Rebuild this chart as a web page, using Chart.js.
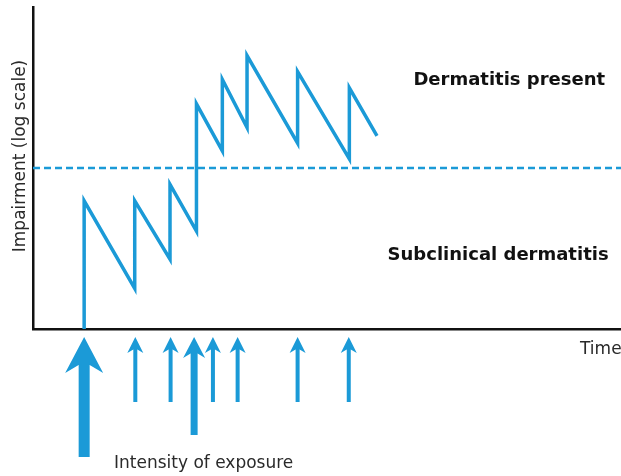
<!DOCTYPE html>
<html>
<head>
<meta charset="utf-8">
<script src="https://cdn.jsdelivr.net/npm/chart.js@4/dist/chart.umd.min.js"></script>
<style>
  body { margin: 0; background: #fff; }
</style>
</head>
<body>
<canvas id="impairmentChart" width="621" height="476"></canvas>
<script>
// schematic units: time 0-100, impairment 0-100 (log scale)
const responseTime = [8.7, 8.7, 17.3, 17.3, 23.3, 23.3, 27.8, 27.8, 32.2, 32.2, 36.4, 36.4, 45.0, 45.0, 53.8, 53.8, 58.5];
const responseLevel = [0, 39.8, 12.6, 39.8, 21.7, 44.9, 30.4, 69.9, 55.3, 77.5, 62.6, 84.9, 57.7, 79.9, 52.8, 74.9, 60.0];
const thresholdTime = [0, 100];
const thresholdLevel = [50, 50];
// exposures: 1 = low, 2 = medium, 3 = high intensity
const exposureTime = [8.7, 17.4, 23.4, 27.4, 30.6, 34.8, 45.0, 53.7];
const exposureIntensity = [3, 1, 1, 2, 1, 1, 1, 1];

const blue = "#1b9ad7";

const arrowSizes = {
  1: { shaft: 4, headW: 16, headH: 16, len: 65 },
  2: { shaft: 7, headW: 22, headH: 21, len: 98 },
  3: { shaft: 11, headW: 38, headH: 36, len: 120 },
};

// exposure arrows + free text labels
const annotations = {
  id: "annotations",
  afterDraw(chart) {
    const { ctx, chartArea, scales } = chart;
    const x = scales.x, y = scales.y;
    ctx.save();

    // arrows below the time axis
    ctx.fillStyle = blue;
    exposureTime.forEach((t, i) => {
      const s = arrowSizes[exposureIntensity[i]];
      const px = x.getPixelForValue(t);
      const tip = chartArea.bottom + 8;
      ctx.fillRect(px - s.shaft / 2, tip + s.headH * 0.6, s.shaft, s.len - s.headH * 0.6);
      ctx.beginPath();
      ctx.moveTo(px, tip);
      ctx.lineTo(px + s.headW / 2, tip + s.headH);
      ctx.lineTo(px + s.shaft / 2, tip + s.headH * 0.78);
      ctx.lineTo(px - s.shaft / 2, tip + s.headH * 0.78);
      ctx.lineTo(px - s.headW / 2, tip + s.headH);
      ctx.closePath();
      ctx.fill();
    });

    // region labels
    ctx.fillStyle = "#111";
    ctx.textAlign = "center";
    ctx.textBaseline = "middle";
    ctx.font = "bold 18px 'DejaVu Sans'";
    ctx.fillText("Dermatitis present", x.getPixelForValue(81), y.getPixelForValue(77.3));
    ctx.fillText("Subclinical dermatitis", x.getPixelForValue(79.1), y.getPixelForValue(23));

    // axis labels
    ctx.fillStyle = "#2a2a2a";
    ctx.font = "17px 'DejaVu Sans'";
    ctx.textAlign = "left";
    ctx.fillText("Time", 580, chartArea.bottom + 21);
    ctx.fillText("Intensity of exposure", 114, chartArea.bottom + 135);

    ctx.translate(21, 156);
    ctx.rotate(-Math.PI / 2);
    ctx.textAlign = "center";
    ctx.fillText("Impairment (log scale)", 0, 0);
    ctx.restore();
  },
};

const toPoints = (xs, ys) => xs.map((v, i) => ({ x: v, y: ys[i] }));

new Chart(document.getElementById("impairmentChart"), {
  type: "line",
  data: {
    datasets: [
      {
        label: "Impairment",
        data: toPoints(responseTime, responseLevel),
        borderColor: blue,
        borderWidth: 3.5,
        borderJoinStyle: "miter",
        pointRadius: 0,
        tension: 0,
      },
      {
        label: "Threshold",
        data: toPoints(thresholdTime, thresholdLevel),
        borderColor: blue,
        borderWidth: 2.5,
        borderDash: [7, 4],
        pointRadius: 0,
      },
    ],
  },
  options: {
    responsive: false,
    animation: false,
    events: [],
    layout: { padding: { left: 33, top: 7, right: 0, bottom: 147 } },
    plugins: {
      legend: { display: false },
      tooltip: { enabled: false },
    },
    scales: {
      x: {
        type: "linear",
        min: 0,
        max: 100,
        grid: { display: false, drawTicks: false },
        ticks: { display: false },
        border: { color: "#111", width: 2.5 },
      },
      y: {
        min: 0,
        max: 100,
        grid: { display: false, drawTicks: false },
        ticks: { display: false },
        border: { color: "#111", width: 2.5 },
      },
    },
  },
  plugins: [annotations],
});
</script>
</body>
</html>
